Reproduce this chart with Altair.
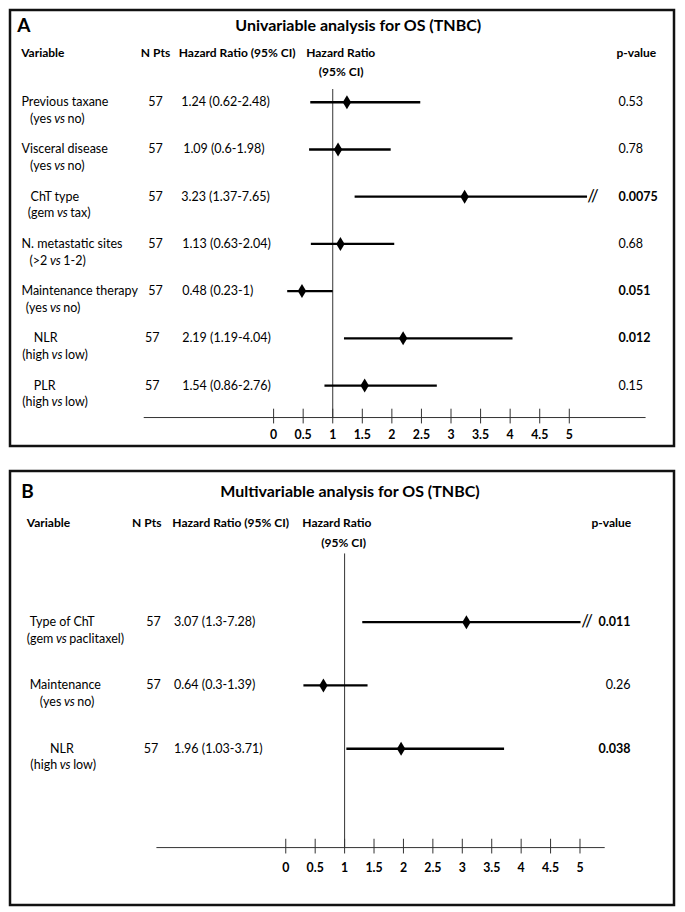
import altair as alt
import pandas as pd

# ---------------- data ----------------
A_VAR = ["Previous taxane", "Visceral disease", "ChT type", "N. metastatic sites",
         "Maintenance therapy", "NLR", "PLR"]
A_PRE = ["(yes", "(yes", "(gem", "(>2", "(yes", "(high", "(high"]
A_POST = ["no)", "no)", "tax)", "1-2)", "no)", "low)", "low)"]
A_N = [57, 57, 57, 57, 57, 57, 57]
A_HR = [1.24, 1.09, 3.23, 1.13, 0.48, 2.19, 1.54]
A_LO = [0.62, 0.6, 1.37, 0.63, 0.23, 1.19, 0.86]
A_HI = [2.48, 1.98, 7.65, 2.04, 1, 4.04, 2.76]
A_P = ["0.53", "0.78", "0.0075", "0.68", "0.051", "0.012", "0.15"]
A_SIG = [False, False, True, False, True, True, False]

B_VAR = ["Type of ChT", "Maintenance", "NLR"]
B_PRE = ["(gem", "(yes", "(high"]
B_POST = ["paclitaxel)", "no)", "low)"]
B_N = [57, 57, 57]
B_HR = [3.07, 0.64, 1.96]
B_LO = [1.3, 0.3, 1.03]
B_HI = [7.28, 1.39, 3.71]
B_P = ["0.011", "0.26", "0.038"]
B_SIG = [True, False, True]

TICKS = [0, 0.5, 1, 1.5, 2, 2.5, 3, 3.5, 4, 4.5, 5]
TICK_LABELS = ["0", "0.5", "1", "1.5", "2", "2.5", "3", "3.5", "4", "4.5", "5"]

HEADERS = ["Variable", "N Pts", "Hazard Ratio (95% CI)", "Hazard Ratio", "(95% CI)", "p-value"]

# ---------------- layout ----------------
W = 664
GAP = 21
REF_L, REF_R = 1.5, 684.15
SX = W / (REF_R - REF_L)
FONT = "Lato"
BODY = 12.5
HEAD = 12
# centre of the italic "vs" (reference px from the start of the 2nd label line)
VS_CENTER = {"(yes": 29.8, "(gem": 32.6, "(>2": 25.4, "(high": 36.5}
VS_HALF = 8.0  # half width of "vs" plus one space

PANEL_A = dict(
    letter="A", title="Univariable analysis for OS (TNBC)",
    top=1.5, bottom=445.7, height=436,
    x0=272.5, ppu=60.8, row0=95.5, step=48.1,
    letter_x=9, letter_y=17.5, title_x=359.5, title_y=17.5,
    head_y=45, head2_y=65,
    head_x=[13, 136, 175, 306, 319, 625],
    lab1_x=[13.3, 13.3, 22.7, 13.3, 13.3, 26, 26],
    lab2_x=[22.7, 22.7, 22.7, 22.7, 18.3, 13.3, 13.3],
    n_x=[151, 151, 151, 151, 151, 147.7, 147.7],
    hr_x=[177.5, 179.5, 177.5, 178.5, 178.5, 178.5, 178.5],
    p_x=627, p_align="left",
    axis_y=416.7, axis_from=-2.196, axis_to=6.29, tick_up=9, tick_dn=6, ticklab_y=435,
    ref_top=82, cap=5.30, brk=5.40,
)
PANEL_B = dict(
    letter="B", title="Multivariable analysis for OS (TNBC)",
    top=468, bottom=910.2, height=434,
    x0=285, ppu=60.5, row0=622, step=64.5,
    letter_x=13, letter_y=489, title_x=351, title_y=489,
    head_y=521, head2_y=541.7,
    head_x=[18.8, 127, 168.4, 302, 321.5, 599.3],
    lab1_x=[21.7, 21.7, 42.7],
    lab2_x=[21.7, 32.7, 21.7],
    n_x=[149, 149, 146.5],
    hr_x=[170, 170, 170],
    p_x=639.5, p_align="right",
    axis_y=851.7, axis_from=-2.198, axis_to=5.42, tick_up=9, tick_dn=6, ticklab_y=872,
    ref_top=552, cap=5.01, brk=5.12,
)

DIAMOND = "M0,-1L0.6,0L0,1L-0.6,0Z"


def panel(cfg, var, pre, post, n, hr, lo, hi, p, sig):
    H = cfg["height"]
    SY = H / (cfg["bottom"] - cfg["top"])

    def px(r):
        return (r - REF_L) * SX

    def py(r):
        return (r - cfg["top"]) * SY

    xdom = [(REF_L - cfg["x0"]) / cfg["ppu"], (REF_R - cfg["x0"]) / cfg["ppu"]]
    ydom = [(cfg["top"] - cfg["row0"]) / cfg["step"], (cfg["bottom"] - cfg["row0"]) / cfg["step"]]
    xs = alt.Scale(domain=xdom, nice=False, zero=False)
    ys = alt.Scale(domain=ydom, nice=False, zero=False, reverse=True)
    Y = alt.Y("row:Q", scale=ys, axis=None)

    k = len(var)
    df = pd.DataFrame({
        "row": list(range(k)), "var": var, "pre": pre, "post": post,
        "n": [str(v) for v in n], "hr": hr, "lo": lo, "hi": hi,
        "hr_txt": [f"{h:g} ({l:g}-{u:g})" for h, l, u in zip(hr, lo, hi)],
        "p": p, "sig": sig,
    })
    df["hi_draw"] = [min(v, cfg["cap"]) for v in hi]
    df["lx1"] = [px(v) for v in cfg["lab1_x"]]
    vsc = [px(v + VS_CENTER[q]) for v, q in zip(cfg["lab2_x"], pre)]
    df["lvs"] = vsc
    df["lpre"] = [c - VS_HALF for c in vsc]
    df["lpost"] = [c + VS_HALF for c in vsc]
    df["nx"] = [px(v) for v in cfg["n_x"]]
    df["hx"] = [px(v) for v in cfg["hr_x"]]
    df["px_"] = px(cfg["p_x"])
    df["vs"] = "vs"

    base = alt.Chart(df)
    dy2 = 17 * SY

    ci = base.mark_rule(color="black", strokeWidth=2.3).encode(
        x=alt.X("lo:Q", scale=xs, axis=None), x2="hi_draw:Q", y=Y)
    pts = base.mark_point(shape=DIAMOND, filled=True, size=196, color="black", opacity=1).encode(
        x=alt.X("hr:Q", scale=xs, axis=None), y=Y)
    brk_df = df[df["hi"] > cfg["cap"]].copy()
    brk_df["brk"] = cfg["brk"]
    brk = alt.Chart(brk_df).mark_text(text="//", fontSize=17, font=FONT, color="black",
                                       baseline="middle", align="center").encode(
        x=alt.X("brk:Q", scale=xs, axis=None), y=Y)

    tick_df = pd.DataFrame({"t": TICKS, "lab": TICK_LABELS})
    refline = alt.Chart(tick_df).transform_filter("datum.t == 1").mark_rule(
        color="#333", strokeWidth=1).encode(
        x=alt.X("t:Q", scale=xs, axis=None),
        y=alt.value(py(cfg["ref_top"])), y2=alt.value(py(cfg["axis_y"])))
    ax_df = pd.DataFrame({"a": [cfg["axis_from"]], "b": [cfg["axis_to"]]})
    axline = alt.Chart(ax_df).mark_rule(color="#333", strokeWidth=1).encode(
        x=alt.X("a:Q", scale=xs, axis=None), x2="b:Q", y=alt.value(py(cfg["axis_y"])))
    ticks = alt.Chart(tick_df).mark_rule(color="#333", strokeWidth=1).encode(
        x=alt.X("t:Q", scale=xs, axis=None),
        y=alt.value(py(cfg["axis_y"] - cfg["tick_up"])),
        y2=alt.value(py(cfg["axis_y"] + cfg["tick_dn"])))
    ticklab = alt.Chart(tick_df).mark_text(font=FONT, fontSize=12.3, fontWeight="bold",
                                           color="black", baseline="middle").encode(
        x=alt.X("t:Q", scale=xs, axis=None), y=alt.value(py(cfg["ticklab_y"])), text="lab:N")

    def txt(field, xfield, align="left", weight="normal", style="normal", dy=0, data=None, size=BODY):
        ch = alt.Chart(df if data is None else data).mark_text(
            font=FONT, fontSize=size, fontWeight=weight, fontStyle=style, align=align,
            baseline="middle", color="black", dy=dy)
        return ch.encode(x=alt.X(f"{xfield}:Q", scale=None), y=Y, text=f"{field}:N")

    lab1 = txt("var", "lx1")
    lab2a = txt("pre", "lpre", align="right", dy=dy2)
    lab2b = txt("vs", "lvs", align="center", style="italic", dy=dy2)
    lab2c = txt("post", "lpost", dy=dy2)
    ntxt = txt("n", "nx", align="center")
    hrtxt = txt("hr_txt", "hx")
    p_norm = txt("p", "px_", align=cfg["p_align"], data=df[~df["sig"]])
    p_bold = txt("p", "px_", align=cfg["p_align"], weight="bold", data=df[df["sig"]])

    hy = [cfg["head_y"]] * 4 + [cfg["head2_y"], cfg["head_y"]]
    head_df = pd.DataFrame({"t": HEADERS, "x": [px(v) for v in cfg["head_x"]],
                            "y": [py(v) for v in hy]})
    heads = alt.Chart(head_df).mark_text(font=FONT, fontSize=HEAD, fontWeight="bold", align="left",
                                         baseline="middle", color="black").encode(
        x=alt.X("x:Q", scale=None), y=alt.Y("y:Q", scale=None), text="t:N")
    title = alt.Chart(pd.DataFrame({"t": [cfg["title"]]})).mark_text(
        font=FONT, fontSize=16, fontWeight="bold", align="center", baseline="middle",
        color="black").encode(x=alt.value(px(cfg["title_x"])), y=alt.value(py(cfg["title_y"])),
                              text="t:N")
    letter = alt.Chart(pd.DataFrame({"t": [cfg["letter"]]})).mark_text(
        font=FONT, fontSize=19, fontWeight="bold", align="left", baseline="middle",
        color="black").encode(x=alt.value(px(cfg["letter_x"])), y=alt.value(py(cfg["letter_y"])),
                              text="t:N")

    layer = alt.layer(refline, axline, ticks, ticklab, ci, pts, brk,
                      lab1, lab2a, lab2b, lab2c, ntxt, hrtxt, p_norm, p_bold,
                      heads, title, letter).resolve_scale(x="independent", y="independent")
    return layer.properties(width=W, height=H)


pa = panel(PANEL_A, A_VAR, A_PRE, A_POST, A_N, A_HR, A_LO, A_HI, A_P, A_SIG)
pb = panel(PANEL_B, B_VAR, B_PRE, B_POST, B_N, B_HR, B_LO, B_HI, B_P, B_SIG)

chart = (
    alt.vconcat(pa, pb, spacing=GAP)
    .properties(padding=0, background="white")
    .configure(font=FONT)
    .configure_view(stroke="#111", strokeWidth=2.5)
)

chart.save("out.html", embed_options={"renderer": "svg", "actions": False})
